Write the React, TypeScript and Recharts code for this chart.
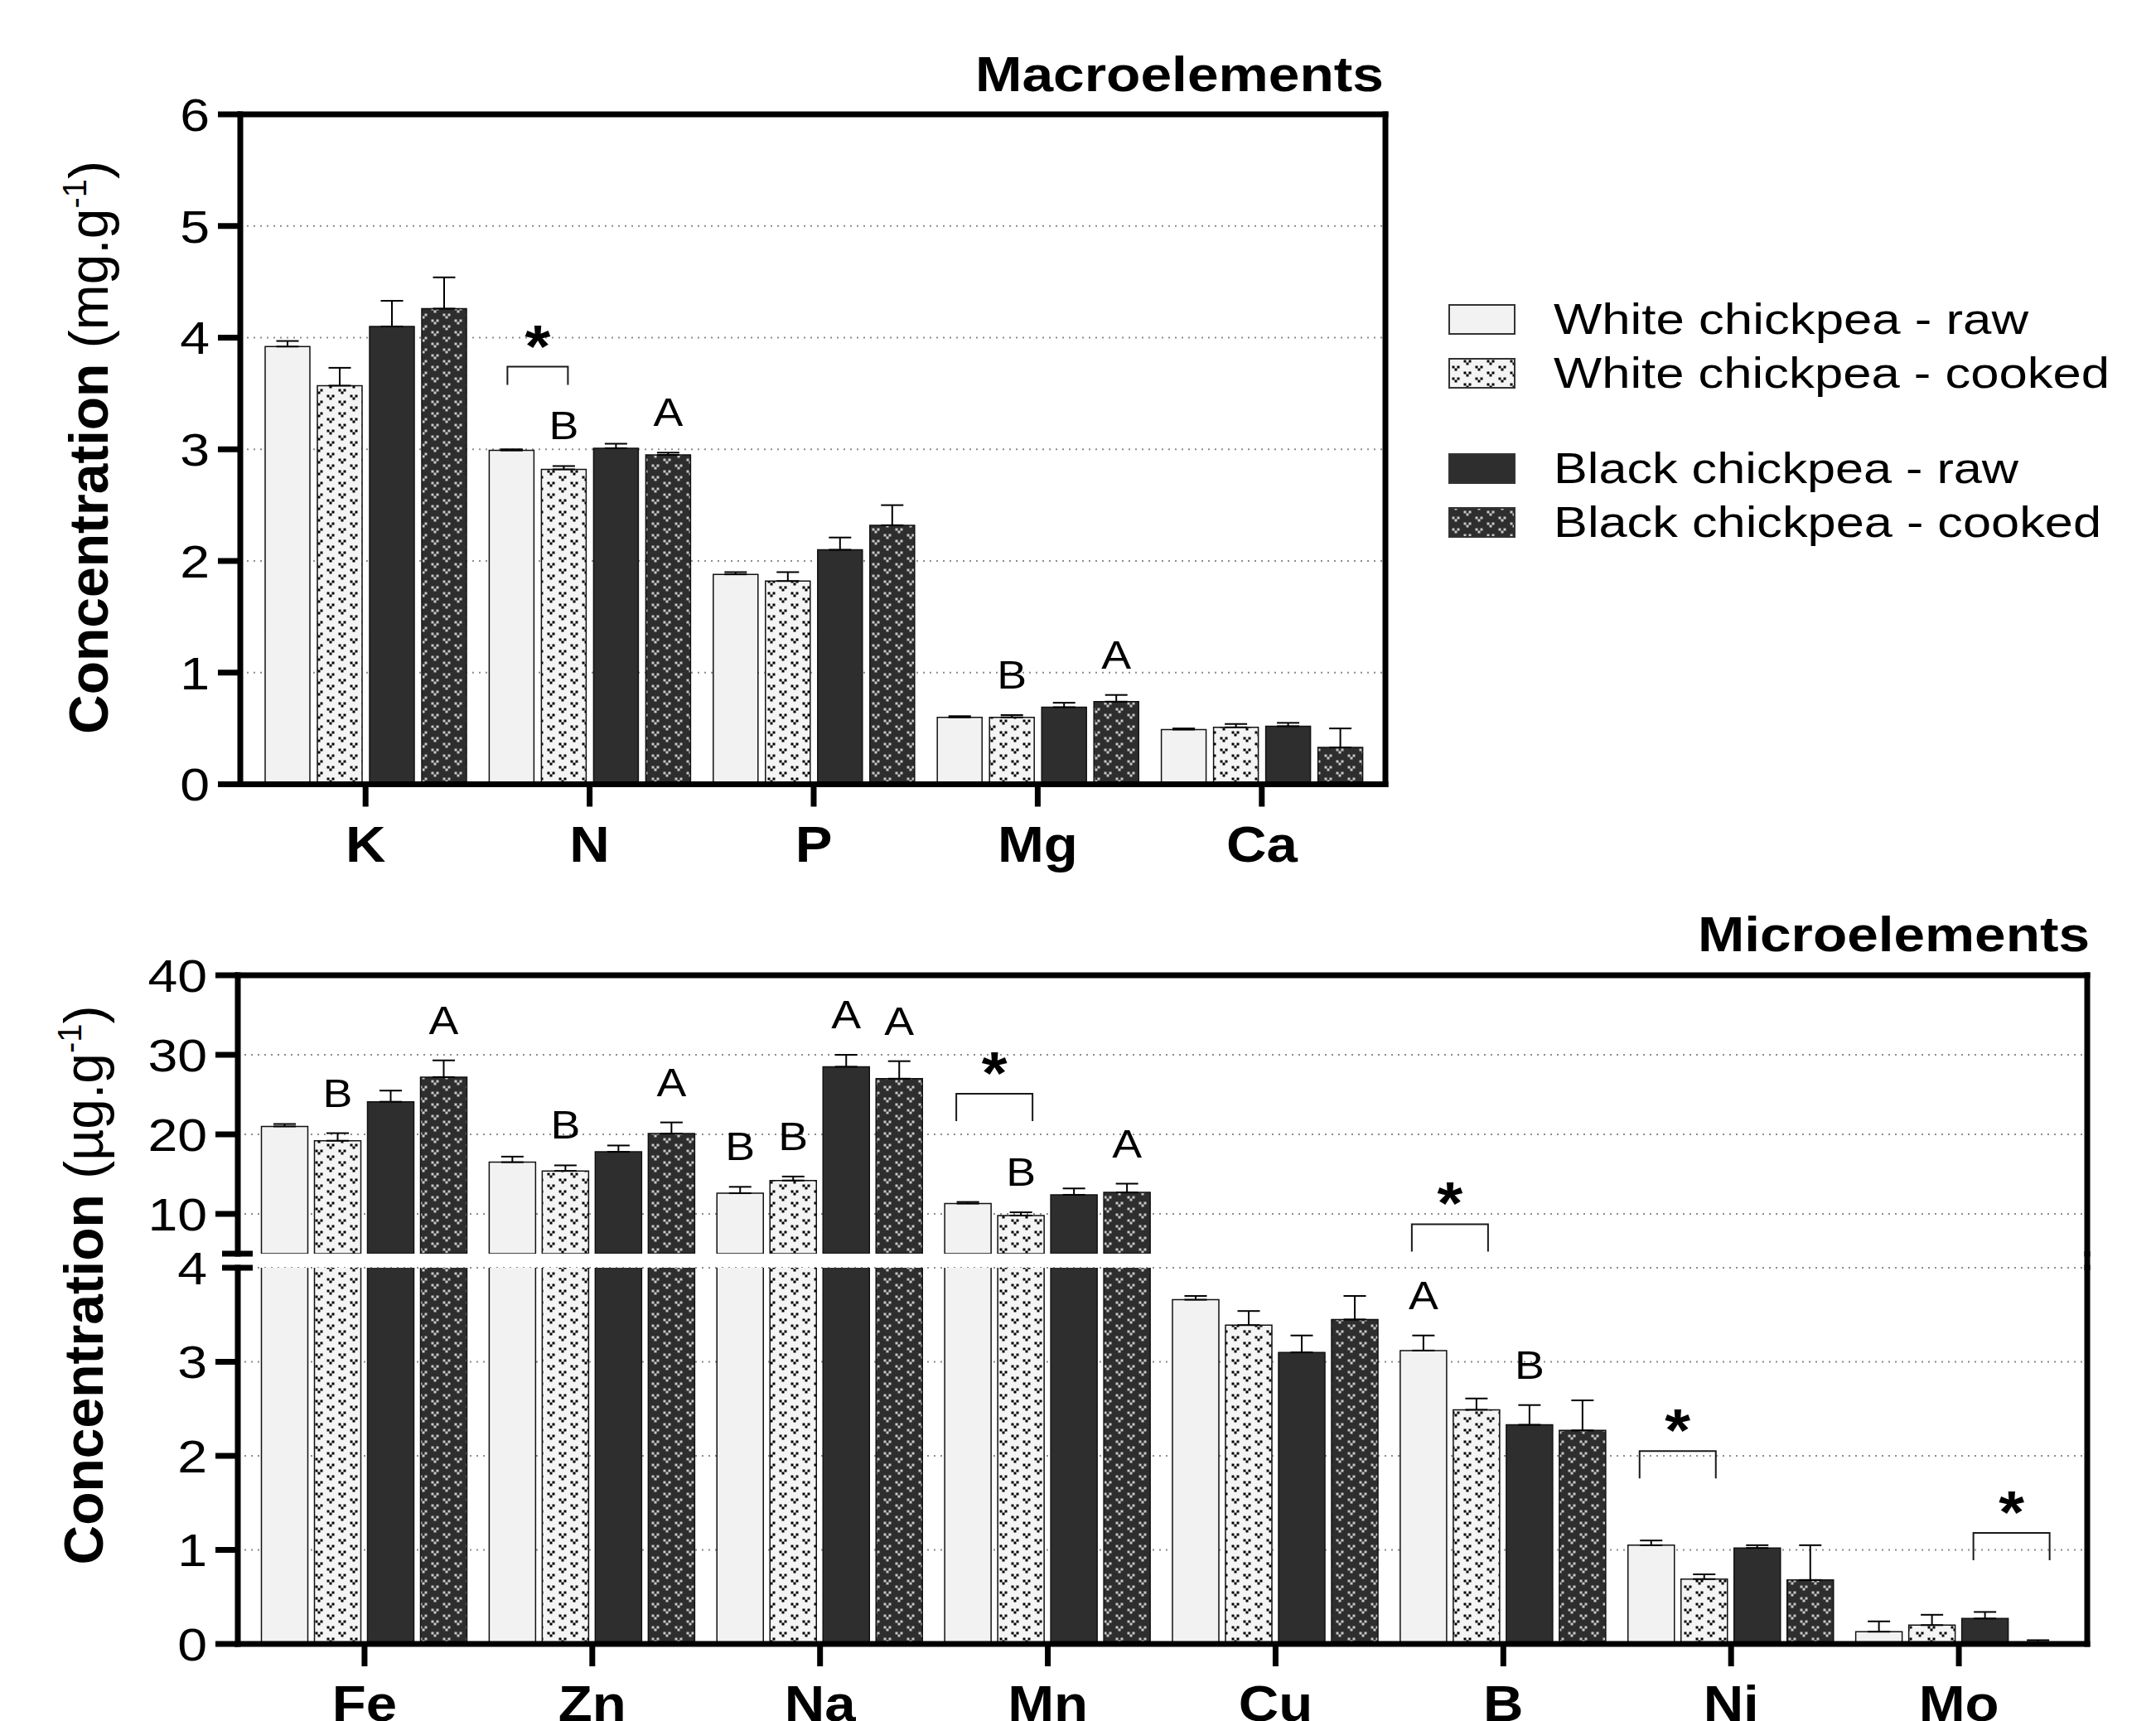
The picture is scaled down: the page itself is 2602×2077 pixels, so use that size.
import React from "react";
import { BarChart, Bar, XAxis, YAxis, CartesianGrid, ErrorBar, LabelList, Rectangle } from "recharts";

const FONT = "'Liberation Sans', Arial, Helvetica, sans-serif";

// series
const seriesNames = ["White chickpea - raw", "White chickpea - cooked", "Black chickpea - raw", "Black chickpea - cooked"];
const seriesKeys = ["wRaw", "wCooked", "bRaw", "bCooked"];
const seriesFills = ["#f2f2f2", "url(#chevLight)", "#2e2e2e", "url(#chevDark)"];

// macroelements (mg.g-1)
const macroCategories = ["K", "N", "P", "Mg", "Ca"];
const macroWhiteRaw = [3.92, 2.99, 1.88, 0.6, 0.49];
const macroWhiteCooked = [3.57, 2.82, 1.82, 0.6, 0.51];
const macroBlackRaw = [4.1, 3.01, 2.1, 0.69, 0.52];
const macroBlackCooked = [4.26, 2.95, 2.32, 0.74, 0.33];
const macroErrWhiteRaw = [0.05, 0.01, 0.02, 0.01, 0.01];
const macroErrWhiteCooked = [0.16, 0.03, 0.08, 0.02, 0.03];
const macroErrBlackRaw = [0.23, 0.04, 0.11, 0.04, 0.03];
const macroErrBlackCooked = [0.28, 0.02, 0.18, 0.06, 0.17];
const macroLettersWhiteRaw = ["", "", "", "", ""];
const macroLettersWhiteCooked = ["", "B", "", "B", ""];
const macroLettersBlackRaw = ["", "", "", "", ""];
const macroLettersBlackCooked = ["", "A", "", "A", ""];
const macroTicks = [0, 1, 2, 3, 4, 5, 6];
const macroGrid = [1, 2, 3, 4, 5];
const macroBrackets = [{ category: "N", leftSeries: 0, level: 3.74 }];

// microelements (µg.g-1)
const microCategories = ["Fe", "Zn", "Na", "Mn", "Cu", "B", "Ni", "Mo"];
const microWhiteRaw = [21.0, 16.5, 12.6, 11.3, 3.66, 3.12, 1.05, 0.13];
const microWhiteCooked = [19.2, 15.4, 14.2, 9.8, 3.39, 2.49, 0.69, 0.2];
const microBlackRaw = [24.1, 17.8, 28.5, 12.4, 3.1, 2.33, 1.02, 0.27];
const microBlackCooked = [27.2, 20.1, 27.0, 12.7, 3.45, 2.27, 0.68, 0.02];
const microErrWhiteRaw = [0.3, 0.7, 0.8, 0.2, 0.04, 0.16, 0.05, 0.11];
const microErrWhiteCooked = [0.95, 0.7, 0.5, 0.4, 0.15, 0.12, 0.05, 0.11];
const microErrBlackRaw = [1.4, 0.8, 1.5, 0.8, 0.18, 0.21, 0.03, 0.07];
const microErrBlackCooked = [2.1, 1.4, 2.2, 1.1, 0.25, 0.32, 0.37, 0.02];
const microLettersWhiteRaw = ["", "", "B", "", "", "A", "", ""];
const microLettersWhiteCooked = ["B", "B", "B", "B", "", "", "", ""];
const microLettersBlackRaw = ["", "", "A", "", "", "B", "", ""];
const microLettersBlackCooked = ["A", "A", "A", "A", "", "", "", ""];
const microUpperTicks = [5, 10, 20, 30, 40];
const microUpperGrid = [10, 20, 30];
const microLowerTicks = [0, 1, 2, 3, 4];
const microLowerGrid = [1, 2, 3, 4];
const microBrackets = [
  { category: "Mn", leftSeries: 0, level: 25.1 },
  { category: "B", leftSeries: 0, level: 8.7 },
  { category: "Ni", leftSeries: 0, level: 2.05 },
  { category: "Mo", leftSeries: 2, level: 1.18 },
];

type Bracket = { category: string; leftSeries: number; level: number };

const axisLine = { stroke: "#000", strokeWidth: 7, strokeLinecap: "square" };

function chevrons(color: string) {
  const sq = (x: number, y: number) => `M${x},${y}h3v3h-3z`;
  const one = (cx: number, cy: number) =>
    sq(cx - 4.5, cy - 3) + sq(cx + 1.5, cy - 3) + sq(cx - 1.5, cy);
  return <path d={one(7, 3.5) + one(21, 10.5)} fill={color} />;
}

function XTick(props: any) {
  const { x, y, payload } = props;
  return (
    <g>
      <line x1={x} x2={x} y1={y} y2={y + 27} stroke="#000" strokeWidth={7} />
      <text
        transform={`translate(${x},${y + 93}) scale(1.1,1)`}
        textAnchor="middle"
        fontSize={61}
        fontWeight="bold"
        fontFamily={FONT}
        fill="#000"
      >
        {payload.value}
      </text>
    </g>
  );
}

function YTick(props: any) {
  const { x, y, payload, breaks, labelled } = props;
  const v = payload.value;
  const isBreak = breaks.includes(v);
  return (
    <g>
      <line x1={isBreak ? x - 19 : x - 27} x2={isBreak ? x + 18 : x} y1={y} y2={y} stroke="#000" strokeWidth={7} />
      {labelled.includes(v) && (
        <text
          transform={`translate(${x - 37},${y}) scale(1.15,1)`}
          dy="0.357em"
          textAnchor="end"
          fontSize={56}
          fontFamily={FONT}
          fill="#000"
        >
          {v}
        </text>
      )}
    </g>
  );
}

type PanelProps = {
  categories: string[];
  values: number[][];
  errors: number[][];
  letters: string[][];
  brackets: Bracket[];
  domain: [number, number];
  ticks: number[];
  gridValues: number[];
  breakTicks: number[];
  labelTicks: number[];
  width: number;
  height: number;
  margin: { top: number; right: number; bottom: number; left: number };
  pad: { left: number; right: number };
  barSize: number;
  barGap: number;
  showXAxis: boolean;
  showTopBorder: boolean;
  bracketWidth: number;
  bracketLeg: number;
  left: number;
  top: number;
};

function Panel(p: PanelProps) {
  const [lo, hi] = p.domain;
  const inRange = (v: number) => v >= lo && v < hi;

  const rows = p.categories.map((name, i) => {
    const row: Record<string, any> = { name };
    seriesKeys.forEach((k, s) => {
      const v = p.values[s][i];
      row[k] = v;
      row[k + "Err"] = inRange(v) ? [0, p.errors[s][i]] : null;
    });
    return row;
  });

  const annotate = (s: number) => (props: any) => {
    const i = p.categories.indexOf(props.value);
    const vb = props.viewBox ?? props;
    if (i < 0 || !vb || vb.width == null) return null;
    const v = p.values[s][i];
    const y0 = Math.min(vb.y, vb.y + vb.height);
    const y1 = Math.max(vb.y, vb.y + vb.height);
    const ppu = (y1 - y0) / Math.abs(v - lo);
    const yOfValue = v >= lo ? y0 : y1;
    const yAt = (L: number) => yOfValue - (L - v) * ppu;
    const cx = vb.x + vb.width / 2;
    const out: React.ReactNode[] = [];
    const letter = p.letters[s][i];
    if (letter && inRange(v)) {
      out.push(
        <text
          key="l"
          transform={`translate(${cx},${yAt(v + p.errors[s][i]) - 32}) scale(1.12,1)`}
          textAnchor="middle"
          fontSize={48}
          fontFamily={FONT}
          fill="#000"
        >
          {letter}
        </text>
      );
    }
    p.brackets
      .filter((b) => b.category === p.categories[i] && b.leftSeries === s && b.level >= lo && b.level < hi)
      .forEach((b, j) => {
        const bx = vb.x + vb.width + p.barGap / 2;
        const by = yAt(b.level);
        const w = p.bracketWidth / 2;
        out.push(
          <path
            key={"b" + j}
            d={`M${bx - w},${by + p.bracketLeg}V${by}H${bx + w}V${by + p.bracketLeg}`}
            fill="none"
            stroke="#1a1a1a"
            strokeWidth={2}
          />
        );
        out.push(
          <text
            key={"a" + j}
            transform={`translate(${bx},${by}) scale(1.1,1)`}
            textAnchor="middle"
            fontSize={72}
            fontWeight="bold"
            fontFamily={FONT}
            fill="#000"
          >
            *
          </text>
        );
      });
    return out.length ? <g>{out}</g> : null;
  };

  return (
    <div style={{ position: "absolute", left: p.left, top: p.top }}>
      <BarChart
        width={p.width}
        height={p.height}
        data={rows}
        margin={p.margin}
        barSize={p.barSize}
        barGap={p.barGap}
      >
        <CartesianGrid
          vertical={false}
          horizontalValues={p.gridValues}
          stroke="#8c8c8c"
          strokeDasharray="2 6"
          strokeWidth={2}
        />
        <XAxis
          dataKey="name"
          hide={!p.showXAxis}
          height={p.showXAxis ? 100 : 0}
          interval={0}
          tickLine={false}
          tickSize={0}
          tickMargin={0}
          axisLine={axisLine}
          tick={(t: any) => <XTick {...t} />}
          padding={p.pad}
        />
        {p.showTopBorder && (
          <XAxis
            xAxisId="top"
            orientation="top"
            dataKey="name"
            height={1}
            tick={false}
            tickLine={false}
            axisLine={axisLine}
            padding={p.pad}
          />
        )}
        <YAxis
          type="number"
          domain={p.domain}
          ticks={p.ticks}
          interval={0}
          allowDataOverflow
          width={100}
          tickLine={false}
          tickSize={0}
          tickMargin={0}
          axisLine={axisLine}
          tick={(t: any) => <YTick {...t} breaks={p.breakTicks} labelled={p.labelTicks} />}
        />
        <YAxis
          yAxisId="right"
          orientation="right"
          type="number"
          domain={[0, 1]}
          width={1}
          tick={false}
          tickLine={false}
          axisLine={axisLine}
        />
        {seriesKeys.map((k, s) => (
          <Bar
            key={k}
            dataKey={k}
            name={seriesNames[s]}
            fill={seriesFills[s]}
            stroke="#111"
            strokeWidth={1.5}
            isAnimationActive={false}
            shape={(sp: any) => {
              const v = sp.payload ? sp.payload[k] : null;
              return v != null && v >= lo ? <Rectangle {...sp} /> : <g />;
            }}
          >
            <ErrorBar dataKey={k + "Err"} width={13.5} stroke="#000" strokeWidth={2} direction="y" isAnimationActive={false} />
            <LabelList dataKey="name" content={annotate(s)} />
          </Bar>
        ))}
      </BarChart>
    </div>
  );
}

function YLabel({ x, y, unit }: { x: number; y: number; unit: string }) {
  return (
    <text transform={`translate(${x},${y}) rotate(-90)`} textAnchor="middle" fontFamily={FONT} fontSize={66} fill="#000">
      <tspan fontWeight="bold">Concentration</tspan>
      <tspan> ({unit}.g</tspan>
      <tspan fontSize={40} dy={-26}>-1</tspan>
      <tspan dy={26}>)</tspan>
    </text>
  );
}

const legendTop = [368, 433, 548, 613];
const legendWidths = [573, 671, 561, 661];

export default function App() {
  const macroValues = [macroWhiteRaw, macroWhiteCooked, macroBlackRaw, macroBlackCooked];
  const macroErrors = [macroErrWhiteRaw, macroErrWhiteCooked, macroErrBlackRaw, macroErrBlackCooked];
  const macroLetters = [macroLettersWhiteRaw, macroLettersWhiteCooked, macroLettersBlackRaw, macroLettersBlackCooked];
  const microValues = [microWhiteRaw, microWhiteCooked, microBlackRaw, microBlackCooked];
  const microErrors = [microErrWhiteRaw, microErrWhiteCooked, microErrBlackRaw, microErrBlackCooked];
  const microLetters = [microLettersWhiteRaw, microLettersWhiteCooked, microLettersBlackRaw, microLettersBlackCooked];

  const microCommon = {
    categories: microCategories,
    values: microValues,
    errors: microErrors,
    letters: microLetters,
    brackets: microBrackets,
    width: 2602,
    pad: { left: 15.5, right: 17.5 },
    barSize: 56,
    barGap: 8,
    bracketWidth: 92,
    bracketLeg: 33,
    left: 0,
  };

  return (
    <div style={{ position: "absolute", left: 0, top: 0, width: 2602, height: 2077, background: "#fff", overflow: "hidden" }}>
      <Panel
        categories={macroCategories}
        values={macroValues}
        errors={macroErrors}
        letters={macroLetters}
        brackets={macroBrackets}
        domain={[0, 6]}
        ticks={macroTicks}
        gridValues={macroGrid}
        breakTicks={[]}
        labelTicks={macroTicks}
        width={1700}
        height={1060}
        margin={{ top: 137, right: 27, bottom: 13.5, left: 190 }}
        pad={{ left: 16, right: 14 }}
        barSize={54}
        barGap={9}
        showXAxis
        showTopBorder
        bracketWidth={73}
        bracketLeg={22}
        left={0}
        top={0}
      />
      <Panel
        {...microCommon}
        domain={[5, 40]}
        ticks={microUpperTicks}
        gridValues={microUpperGrid}
        breakTicks={[5]}
        labelTicks={[10, 20, 30, 40]}
        height={500}
        margin={{ top: 76, right: 82, bottom: 87, left: 187 }}
        showXAxis={false}
        showTopBorder
        top={1100}
      />
      <Panel
        {...microCommon}
        domain={[0, 4]}
        ticks={microLowerTicks}
        gridValues={microLowerGrid}
        breakTicks={[4]}
        labelTicks={microLowerTicks}
        height={600}
        margin={{ top: 30, right: 82, bottom: 16, left: 187 }}
        showXAxis
        showTopBorder={false}
        top={1500}
      />
      <svg width={2602} height={2077} style={{ position: "absolute", left: 0, top: 0, pointerEvents: "none" }}>
        <defs>
          <pattern id="chevLight" patternUnits="userSpaceOnUse" width={28} height={14}>
            <rect width={28} height={14} fill="#f4f4f4" />
            {chevrons("#000")}
          </pattern>
          <pattern id="chevDark" patternUnits="userSpaceOnUse" width={28} height={14}>
            <rect width={28} height={14} fill="#2e2e2e" />
            {chevrons("#c8c8c8")}
          </pattern>
        </defs>
        <line x1={2519} x2={2519} y1={1510} y2={1533} stroke="#000" strokeWidth={7} />
        <text x={1670} y={110} textAnchor="end" fontFamily={FONT} fontWeight="bold" fontSize={60} textLength={493} lengthAdjust="spacingAndGlyphs">
          Macroelements
        </text>
        <text x={2522} y={1148} textAnchor="end" fontFamily={FONT} fontWeight="bold" fontSize={60} textLength={473} lengthAdjust="spacingAndGlyphs">
          Microelements
        </text>
        <YLabel x={130} y={540} unit="mg" />
        <YLabel x={124} y={1551} unit="µg" />
        {seriesNames.map((n, s) => (
          <g key={n}>
            <rect x={1749} y={legendTop[s]} width={79} height={35} fill={seriesFills[s]} stroke="#333" strokeWidth={2} />
            <text
              x={1875}
              y={legendTop[s] + 35}
              fontFamily={FONT}
              fontSize={52}
              textLength={legendWidths[s]}
              lengthAdjust="spacingAndGlyphs"
            >
              {n}
            </text>
          </g>
        ))}
      </svg>
    </div>
  );
}
